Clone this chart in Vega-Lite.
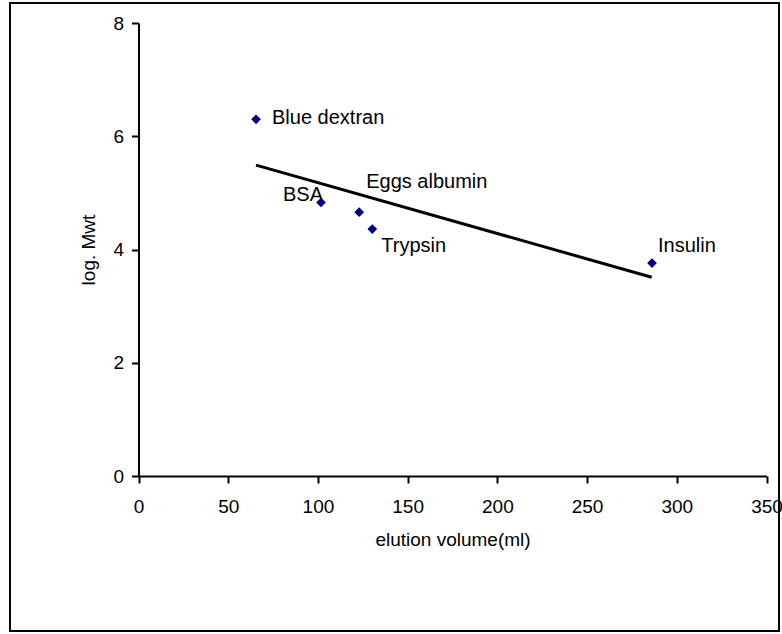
{
  "$schema": "https://vega.github.io/schema/vega-lite/v6.json",
  "width": 769,
  "height": 628,
  "padding": {"left": 10, "top": 3, "right": 3, "bottom": 3},
  "autosize": {"type": "none"},
  "background": "white",
  "config": {
    "view": {"stroke": "black", "strokeWidth": 2},
    "font": "Liberation Sans",
    "axis": {
      "grid": false,
      "domainColor": "black",
      "domainWidth": 2,
      "tickColor": "black",
      "tickWidth": 2,
      "labelColor": "black",
      "titleColor": "black",
      "labelFont": "Liberation Sans",
      "titleFont": "Liberation Sans",
      "labelFontSize": 19,
      "titleFontSize": 19,
      "titleFontWeight": "normal",
      "labelFlush": false,
      "labelOverlap": false
    },
    "text": {"font": "Liberation Sans", "fontSize": 20, "color": "black"}
  },
  "datasets": {
    "proteins": [
      {"protein": "Blue dextran", "volume": 65.5, "logMwt": 6.30},
      {"protein": "BSA", "volume": 101.7, "logMwt": 4.83},
      {"protein": "Eggs albumin", "volume": 123.0, "logMwt": 4.66},
      {"protein": "Trypsin", "volume": 130.3, "logMwt": 4.36},
      {"protein": "Insulin", "volume": 286.2, "logMwt": 3.76}
    ],
    "trend": [
      {"volume": 65.5, "logMwt": 5.49},
      {"volume": 286.0, "logMwt": 3.51}
    ]
  },
  "encoding": {
    "x": {
      "field": "volume",
      "type": "quantitative",
      "scale": {"domain": [0, 350], "range": [128.5, 756.5], "nice": false, "zero": false},
      "axis": {
        "title": "elution volume(ml)",
        "values": [0, 50, 100, 150, 200, 250, 300, 350],
        "offset": -155,
        "tickSize": 7,
        "labelPadding": 14,
        "titlePadding": 14
      }
    },
    "y": {
      "field": "logMwt",
      "type": "quantitative",
      "scale": {"domain": [0, 8], "range": [473, 20], "nice": false, "zero": false},
      "axis": {
        "title": "log. Mwt",
        "values": [0, 2, 4, 6, 8],
        "offset": -128.5,
        "tickSize": 7,
        "labelPadding": 8,
        "titlePadding": 14
      }
    }
  },
  "layer": [
    {
      "data": {"name": "trend"},
      "mark": {"type": "line", "color": "black", "strokeWidth": 3}
    },
    {
      "data": {"name": "proteins"},
      "mark": {"type": "point", "shape": "diamond", "filled": true, "color": "#000080", "size": 95, "opacity": 1}
    },
    {
      "data": {"name": "proteins"},
      "transform": [{"filter": "datum.protein === 'Blue dextran'"}],
      "mark": {"type": "text", "align": "left", "baseline": "middle", "dx": 16, "dy": -1},
      "encoding": {"text": {"field": "protein"}}
    },
    {
      "data": {"name": "proteins"},
      "transform": [{"filter": "datum.protein === 'BSA'"}],
      "mark": {"type": "text", "align": "right", "baseline": "middle", "dx": 2, "dy": -8},
      "encoding": {"text": {"field": "protein"}}
    },
    {
      "data": {"name": "proteins"},
      "transform": [{"filter": "datum.protein === 'Eggs albumin'"}],
      "mark": {"type": "text", "align": "left", "baseline": "middle", "dx": 7, "dy": -30},
      "encoding": {"text": {"field": "protein"}}
    },
    {
      "data": {"name": "proteins"},
      "transform": [{"filter": "datum.protein === 'Trypsin'"}],
      "mark": {"type": "text", "align": "left", "baseline": "middle", "dx": 9, "dy": 17},
      "encoding": {"text": {"field": "protein"}}
    },
    {
      "data": {"name": "proteins"},
      "transform": [{"filter": "datum.protein === 'Insulin'"}],
      "mark": {"type": "text", "align": "left", "baseline": "middle", "dx": 6, "dy": -17},
      "encoding": {"text": {"field": "protein"}}
    }
  ]
}
